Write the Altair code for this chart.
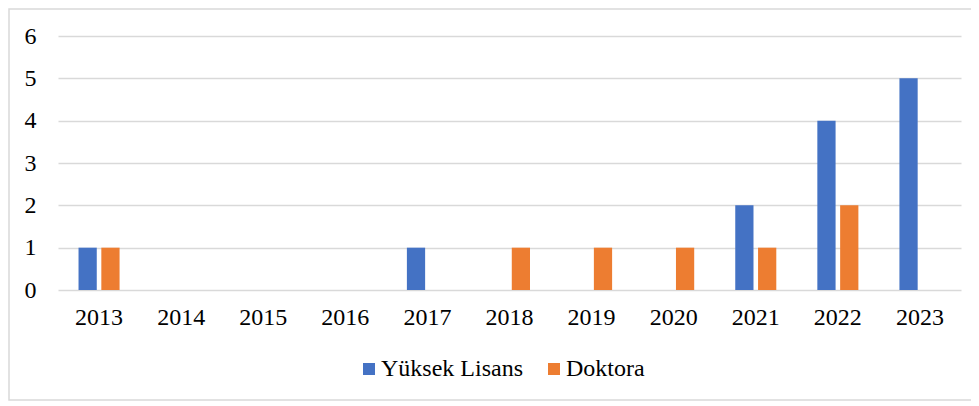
import altair as alt
import pandas as pd

years = ["2013", "2014", "2015", "2016", "2017", "2018", "2019", "2020", "2021", "2022", "2023"]
series = ["Yüksek Lisans", "Doktora"]
yuksek_lisans = [1, 0, 0, 0, 1, 0, 0, 0, 2, 4, 5]
doktora = [1, 0, 0, 0, 0, 1, 1, 1, 1, 2, 0]
colors = ["#4472C4", "#ED7D31"]

rows = []
for i, y in enumerate(years):
    rows.append({"Yıl": y, "Seri": series[0], "Değer": yuksek_lisans[i]})
    rows.append({"Yıl": y, "Seri": series[1], "Değer": doktora[i]})
df = pd.DataFrame(rows)

W, H = 903, 254
FONT = "Times New Roman, Liberation Serif, serif"

bars = alt.Chart(df).mark_bar().encode(
    x=alt.X("Yıl:N", sort=years, title=None,
            scale=alt.Scale(paddingInner=0.5, paddingOuter=0.25),
            axis=alt.Axis(labelAngle=0, labelPadding=15, ticks=False, domain=False,
                          labelFont=FONT, labelFontSize=24, labelColor="#000000")),
    xOffset=alt.XOffset("Seri:N", sort=series, scale=alt.Scale(paddingInner=0.2)),
    y=alt.Y("Değer:Q", title=None,
            scale=alt.Scale(domain=[0, 6], nice=False),
            axis=alt.Axis(values=[0, 1, 2, 3, 4, 5, 6], ticks=False, domain=False,
                          labelPadding=22, labelFont=FONT, labelFontSize=24,
                          labelColor="#000000", gridColor="#D9D9D9", gridWidth=1.5)),
    color=alt.Color("Seri:N", sort=series,
                    scale=alt.Scale(domain=series, range=colors),
                    legend=alt.Legend(title=None, orient="none", direction="horizontal",
                                      legendX=299, legendY=321,
                                      symbolType="square", symbolSize=144,
                                      symbolStrokeWidth=0, labelFont=FONT,
                                      labelFontSize=24, labelColor="#000000",
                                      labelOffset=0, columnPadding=19)),
)

frame = alt.Chart(pd.DataFrame({"a": [0]})).mark_rect(
    fill=None, stroke="#D9D9D9", strokeWidth=1.5, clip=False
).encode(
    x=alt.value(-49), x2=alt.value(W + 11),
    y=alt.value(-27), y2=alt.value(H + 110),
)

chart = alt.layer(frame, bars).properties(
    width=W, height=H,
    background="#FFFFFF",
    autosize=alt.AutoSizeParams(type="none"),
    padding={"left": 50, "top": 28, "right": 10, "bottom": 112},
).configure_view(stroke=None)

chart.save("out.html", embed_options={"renderer": "svg", "actions": False})
